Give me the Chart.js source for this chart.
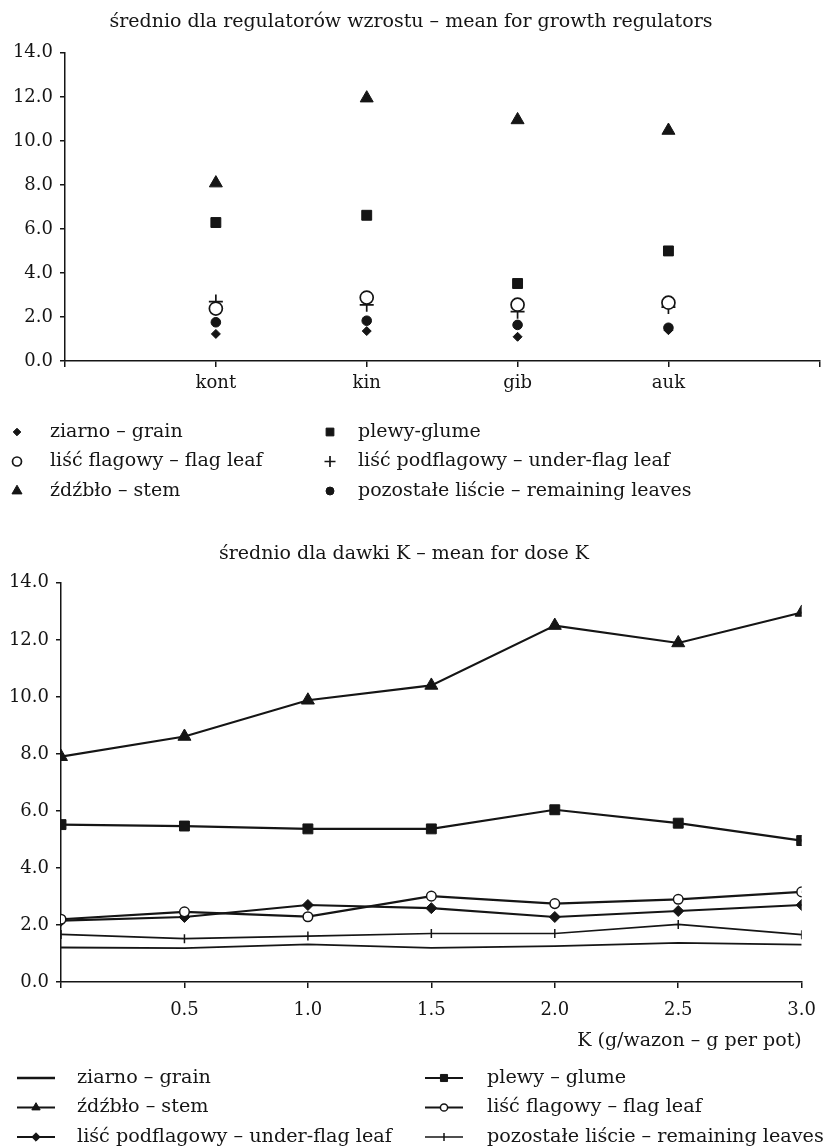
<!DOCTYPE html>
<html lang="pl">
<head>
<meta charset="UTF-8">
<title>średnio dla regulatorów wzrostu / dawki K</title>
<script src="https://cdn.jsdelivr.net/npm/chart.js"></script>
<style>
  html, body { margin: 0; padding: 0; background: #fff; }
  #wrap { position: relative; width: 828px; height: 1148px; }
  .box { position: absolute; left: 0; width: 828px; }
  #top { top: 0; height: 530px; }
  #bottom { top: 530px; height: 618px; }
</style>
</head>
<body>
<div id="wrap">
  <div class="box" id="top"><canvas id="regChart"></canvas></div>
  <div class="box" id="bottom"><canvas id="doseChart"></canvas></div>
</div>
<script>
// top chart: mean for growth regulators
const regulators = ["kont", "kin", "gib", "auk"];
const regGrain = [1.23, 1.36, 1.10, 1.40];
const regGlume = [6.29, 6.62, 3.52, 5.00];
const regFlagLeaf = [2.38, 2.88, 2.56, 2.65];
const regUnderFlag = [2.70, 2.55, 2.24, 2.45];
const regStem = [8.08, 11.94, 10.95, 10.47];
const regRemaining = [1.76, 1.83, 1.64, 1.51];

// bottom chart: mean for dose K
const doses = [0, 0.5, 1.0, 1.5, 2.0, 2.5, 3.0];
const kGrain = [1.21, 1.19, 1.32, 1.20, 1.26, 1.37, 1.31];
const kGlume = [5.52, 5.47, 5.37, 5.37, 6.04, 5.57, 4.96];
const kStem = [7.90, 8.61, 9.88, 10.40, 12.50, 11.89, 12.96];
const kFlagLeaf = [2.20, 2.46, 2.29, 3.01, 2.75, 2.90, 3.16];
const kUnderFlag = [2.15, 2.28, 2.70, 2.59, 2.28, 2.49, 2.70];
const kRemaining = [1.67, 1.52, 1.61, 1.70, 1.70, 2.02, 1.66];

const yTickValues = [0, 2, 4, 6, 8, 10, 12, 14];
const xTickValues = [0, 0.5, 1.0, 1.5, 2.0, 2.5, 3.0];

const INK = "#151515";
const FONT = "'DejaVu Serif', 'Liberation Serif', serif";

// two-column legend drawn under each plot
const gridLegend = {
  id: "gridLegend",
  afterDraw(chart, args, opts) {
    const ctx = chart.ctx;
    ctx.save();
    ctx.font = opts.fontSize + "px " + FONT;
    ctx.textBaseline = "middle";
    chart.data.datasets.forEach((ds, i) => {
      const col = i % 2, row = Math.floor(i / 2);
      const y = opts.top + row * opts.rowGap;
      const sx = opts.symbolX[col];
      ctx.strokeStyle = INK;
      if (opts.withLine) {
        ctx.lineWidth = ds.legendLine || ds.borderWidth;
        ctx.beginPath();
        ctx.moveTo(sx - opts.lineHalf, y);
        ctx.lineTo(sx + opts.lineHalf, y);
        ctx.stroke();
      }
      if (ds.pointStyle) {
        ctx.fillStyle = ds.pointBackgroundColor;
        ctx.lineWidth = ds.pointBorderWidth;
        Chart.helpers.drawPoint(ctx, {
          pointStyle: ds.pointStyle, radius: ds.legendRadius,
          borderWidth: ds.pointBorderWidth, rotation: ds.pointRotation || 0
        }, sx, y);
      }
      ctx.fillStyle = INK;
      ctx.fillText(ds.label, opts.textX[col], y);
    });
    ctx.restore();
  }
};

function pad(values) { return [null, ...values, null]; }

function regSet(label, values, style, radius, legendRadius, fill) {
  return {
    label: label, data: pad(values), showLine: false,
    pointStyle: style, pointRadius: radius, legendRadius: legendRadius,
    pointBackgroundColor: fill, pointBorderColor: INK,
    pointBorderWidth: (style === "circle" && fill === "#fff") || style === "cross" ? 1.7 : 1
  };
}

new Chart(document.getElementById("regChart"), {
  type: "line",
  data: {
    labels: ["", ...regulators, ""],
    datasets: [
      regSet("ziarno – grain", regGrain, "rectRot", 4.5, 3.8, INK),
      regSet("plewy-glume", regGlume, "rect", 7, 5.5, INK),
      regSet("liść flagowy – flag leaf", regFlagLeaf, "circle", 6.5, 4.5, "#fff"),
      regSet("liść podflagowy – under-flag leaf", regUnderFlag, "cross", 7, 5.5, INK),
      regSet("źdźbło – stem", regStem, "triangle", 7.5, 5.8, INK),
      regSet("pozostałe liście – remaining leaves", regRemaining, "circle", 4.8, 4, INK)
    ]
  },
  options: {
    responsive: true, maintainAspectRatio: false, animation: false,
    layout: { padding: { left: 0, right: 6, top: 0, bottom: 100 } },
    plugins: {
      legend: { display: false }, tooltip: { enabled: false },
      title: {
        display: true, text: "średnio dla regulatorów wzrostu – mean for growth regulators",
        color: INK, font: { family: FONT, size: 19, weight: "normal" }, padding: { top: 11, bottom: 19 }
      },
      gridLegend: { top: 432, rowGap: 29.5, symbolX: [17, 330], textX: [50, 358], fontSize: 19 }
    },
    scales: {
      x: {
        type: "category", offset: false,
        border: { color: INK, width: 1.5 },
        grid: { drawOnChartArea: false, color: INK, tickLength: 6, lineWidth: 1.5 },
        ticks: { color: INK, font: { family: FONT, size: 18 }, padding: 6, autoSkip: false, maxRotation: 0 },
        afterFit: s => { s.height = 69; }
      },
      y: {
        min: 0, max: 14,
        afterBuildTicks: s => { s.ticks = yTickValues.map(v => ({ value: v })); },
        border: { color: INK, width: 1.5 },
        grid: { drawOnChartArea: false, color: INK, tickLength: 5, lineWidth: 1.5 },
        ticks: { color: INK, font: { family: FONT, size: 18 }, padding: 7, callback: v => v.toFixed(1) },
        afterFit: s => { s.width = 65; }
      }
    }
  },
  plugins: [gridLegend]
});

function kSet(label, values, style, radius, legendRadius, fill, width, rotation) {
  return {
    label: label, data: doses.map((d, i) => ({ x: d, y: values[i] })),
    borderColor: INK, borderWidth: width, tension: 0,
    pointStyle: style, pointRadius: style ? radius : 0, legendRadius: legendRadius,
    pointRotation: rotation || 0,
    pointBackgroundColor: fill, pointBorderColor: INK,
    pointBorderWidth: style === "circle" || style === "line" ? 1.5 : 1
  };
}

const grainSet = kSet("ziarno – grain", kGrain, false, 0, 0, INK, 1.8);
grainSet.legendLine = 2.6;

new Chart(document.getElementById("doseChart"), {
  type: "line",
  data: {
    datasets: [
      grainSet,
      kSet("plewy – glume", kGlume, "rect", 7, 5, INK, 2.2),
      kSet("źdźbło – stem", kStem, "triangle", 7.5, 4.8, INK, 2.2),
      kSet("liść flagowy – flag leaf", kFlagLeaf, "circle", 4.8, 3.6, "#fff", 2.2),
      kSet("liść podflagowy – under-flag leaf", kUnderFlag, "rectRot", 5.5, 4.2, INK, 2.2),
      kSet("pozostałe liście – remaining leaves", kRemaining, "line", 4.5, 4, INK, 1.6, 90)
    ]
  },
  options: {
    responsive: true, maintainAspectRatio: false, animation: false,
    layout: { padding: { left: 0, right: 20, top: 0, bottom: 96 } },
    plugins: {
      legend: { display: false }, tooltip: { enabled: false },
      title: {
        display: true, text: "średnio dla dawki K – mean for dose K",
        color: INK, font: { family: FONT, size: 19, weight: "normal" }, padding: { top: 13, bottom: 17 }
      },
      gridLegend: { top: 548, rowGap: 29.5, symbolX: [36, 444], textX: [77, 487], fontSize: 19.2, withLine: true, lineHalf: 19 }
    },
    scales: {
      x: {
        type: "linear", min: 0, max: 3,
        afterBuildTicks: s => { s.ticks = xTickValues.map(v => ({ value: v })); },
        border: { color: INK, width: 1.5 },
        grid: { drawOnChartArea: false, color: INK, tickLength: 6, lineWidth: 1.5 },
        ticks: { color: INK, font: { family: FONT, size: 18 }, padding: 12, maxRotation: 0,
          callback: v => v === 0 ? "" : v.toFixed(1) },
        title: { display: true, text: "K (g/wazon – g per pot)", align: "end", color: INK,
          font: { family: FONT, size: 19 }, padding: { top: 0, bottom: 0 } },
        afterFit: s => { s.height = 70; }
      },
      y: {
        min: 0, max: 14,
        afterBuildTicks: s => { s.ticks = yTickValues.map(v => ({ value: v })); },
        border: { color: INK, width: 1.5 },
        grid: { drawOnChartArea: false, color: INK, tickLength: 5, lineWidth: 1.5 },
        ticks: { color: INK, font: { family: FONT, size: 18 }, padding: 7, callback: v => v.toFixed(1) },
        afterFit: s => { s.width = 61; }
      }
    }
  },
  plugins: [gridLegend]
});
</script>
</body>
</html>
